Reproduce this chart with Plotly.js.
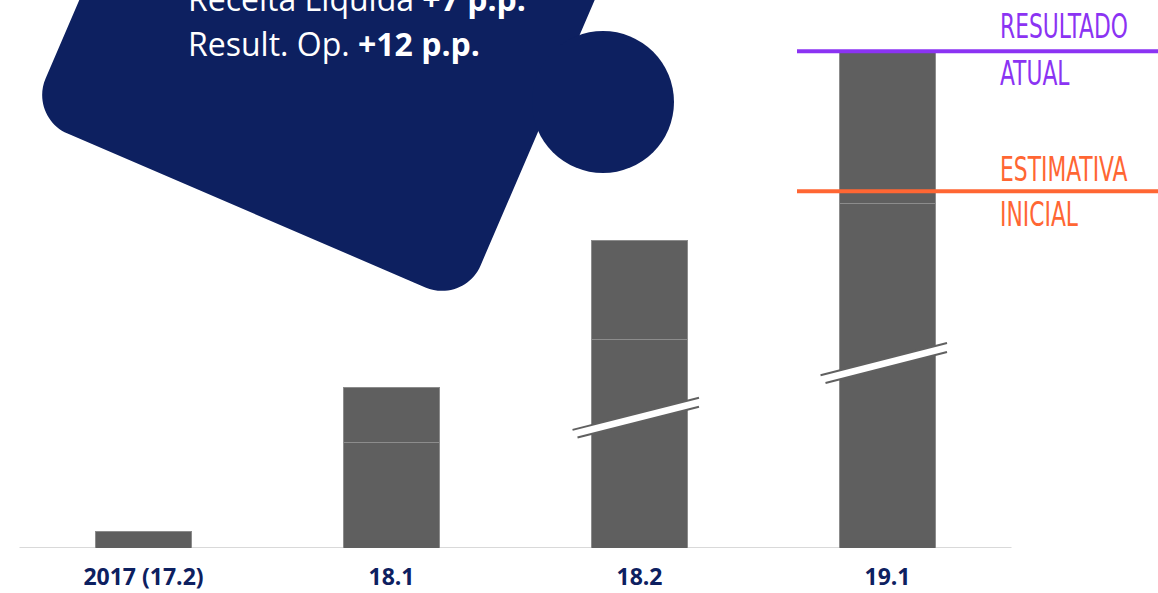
<!DOCTYPE html>
<html>
<head>
<meta charset="utf-8">
<script src="https://cdn.plot.ly/plotly-3.0.1.min.js"></script>
<style>
  html, body { margin: 0; padding: 0; background: #ffffff; }
  #chart { width: 1158px; height: 593px; }
</style>
</head>
<body>
<div id="chart"></div>
<script>
// Periods on the x axis
const periods = ['2017 (17.2)', '18.1', '18.2', '19.1'];
// Stacked bar segments (index, 19.1 = 100)
const baseValues = [3.4, 21.3, 41.9, 69.4];
const topValues = [null, 11.1, 19.9, 30.6];
// Axis-break marks drawn across the tall bars (value at the bar centre)
const breakAt = [null, null, 26.3, 37.3];
// Reference levels
const resultadoAtual = 100;
const estimativaInicial = 71.8;
// Callout text
const calloutLabels = ['Receita Líquida', 'Result. Op.'];
const calloutDeltas = ['+7 p.p.', '+12 p.p.'];

// ---- page geometry ----
const W = 1158, H = 593;
const plotBottom = 548;                 // pixel row of the baseline
const slot = 248;                        // pixels per category
const firstCentre = 143.5;               // pixel centre of the first category
const xRange = [(0 - firstCentre) / slot, (W - firstCentre) / slot];
const yMax = 110.3;

const navy = '#0d2060';
const barGrey = '#5f5f5f';
const purple = '#8b33f3';
const orange = '#ff6633';

// pixel -> paper helpers for the decorative callout
const px = x => x / W;
const py = y => (plotBottom - y) / plotBottom;

// Rounded, rotated callout body (only the two lower corners are on screen)
function calloutPath() {
  const BL = [29, 117], BR = [464, 304];
  const len = Math.hypot(BR[0] - BL[0], BR[1] - BL[1]);
  const u = [(BR[0] - BL[0]) / len, (BR[1] - BL[1]) / len]; // along bottom edge
  const up = [u[1], -u[0]];                                   // towards the top
  const Hh = 520;
  const TL = [BL[0] + up[0] * Hh, BL[1] + up[1] * Hh];
  const TR = [BR[0] + up[0] * Hh, BR[1] + up[1] * Hh];
  const d = 42, k = 0.5523;
  const p = (pt) => px(pt[0]).toFixed(5) + ',' + py(pt[1]).toFixed(5);
  const add = (a, v, s) => [a[0] + v[0] * s, a[1] + v[1] * s];
  const down = [-up[0], -up[1]];
  const bl1 = add(BL, up, d), bl2 = add(BL, u, d);
  const blc1 = add(bl1, down, k * d), blc2 = add(bl2, u, -k * d);
  const br1 = add(BR, u, -d), br2 = add(BR, up, d);
  const brc1 = add(br1, u, k * d), brc2 = add(br2, up, -k * d);
  return 'M ' + p(TL) + ' L ' + p(bl1) +
    ' C ' + p(blc1) + ' ' + p(blc2) + ' ' + p(bl2) +
    ' L ' + p(br1) +
    ' C ' + p(brc1) + ' ' + p(brc2) + ' ' + p(br2) +
    ' L ' + p(TR) + ' Z';
}

const xIdx = periods.map((_, i) => i);

const traces = [
  {
    type: 'bar', x: xIdx, y: baseValues, width: 0.39,
    marker: { color: barGrey, line: { color: '#8c8c8c', width: 1 } },
    hoverinfo: 'skip'
  },
  {
    type: 'bar', x: xIdx, y: topValues, width: 0.39,
    marker: { color: barGrey, line: { color: '#8c8c8c', width: 1 } },
    hoverinfo: 'skip'
  }
];

const shapes = [];
// baseline
shapes.push({ type: 'line', xref: 'x', yref: 'y', x0: -0.5, x1: 3.5, y0: 0, y1: 0,
  line: { color: '#d9d9d9', width: 2 }, layer: 'below' });

// axis-break marks
const slope = 12.7, half = 0.9, bl = -0.27, br = 0.24;
breakAt.forEach((b, i) => {
  if (b === null) return;
  const xl = i + bl, xr = i + br;
  const yl = b + slope * bl, yr = b + slope * br;
  shapes.push({ type: 'path', xref: 'x', yref: 'y',
    path: `M ${xl},${yl - half} L ${xr},${yr - half} L ${xr},${yr + half} L ${xl},${yl + half} Z`,
    fillcolor: '#ffffff', line: { width: 0 } });
  shapes.push({ type: 'line', xref: 'x', yref: 'y', x0: xl, x1: xr, y0: yl + half, y1: yr + half,
    line: { color: '#606060', width: 2 } });
  shapes.push({ type: 'line', xref: 'x', yref: 'y', x0: xl + 0.02, x1: xr, y0: yl - half + slope * 0.02, y1: yr - half,
    line: { color: '#606060', width: 2 } });
});

// reference levels
const refStart = 3 - (887.5 - 797) / slot;
shapes.push({ type: 'line', xref: 'x', yref: 'y', x0: refStart, x1: xRange[1], y0: resultadoAtual, y1: resultadoAtual,
  line: { color: purple, width: 4 } });
shapes.push({ type: 'line', xref: 'x', yref: 'y', x0: refStart, x1: xRange[1], y0: estimativaInicial, y1: estimativaInicial,
  line: { color: orange, width: 4 } });

// callout body
shapes.push({ type: 'path', xref: 'paper', yref: 'paper', path: calloutPath(),
  fillcolor: navy, line: { width: 0 } });
shapes.push({ type: 'circle', xref: 'paper', yref: 'paper',
  x0: px(532), x1: px(674), y0: py(173), y1: py(31),
  fillcolor: navy, line: { width: 0 } });

const labelX = 3 + (998 - 887.5) / slot;
const labelFont = c => ({ family: 'DejaVu Sans Condensed, DejaVu Sans, sans-serif', size: 34, color: c });

const annotations = [
  { x: labelX, y: resultadoAtual, xref: 'x', yref: 'y', xanchor: 'left', yanchor: 'bottom',
    yshift: 3, text: 'RESULTADO', showarrow: false, font: labelFont(purple) },
  { x: labelX, y: resultadoAtual, xref: 'x', yref: 'y', xanchor: 'left', yanchor: 'top',
    yshift: 0, text: 'ATUAL', showarrow: false, font: labelFont(purple) },
  { x: labelX, y: estimativaInicial, xref: 'x', yref: 'y', xanchor: 'left', yanchor: 'bottom',
    yshift: 0, text: 'ESTIMATIVA', showarrow: false, font: labelFont(orange) },
  { x: labelX, y: estimativaInicial, xref: 'x', yref: 'y', xanchor: 'left', yanchor: 'top',
    yshift: -1, text: 'INICIAL', showarrow: false, font: labelFont(orange) }
];

const calloutBaselines = [12, 57];
calloutLabels.forEach((lab, i) => {
  annotations.push({
    xref: 'paper', yref: 'paper', x: px(186), y: py(calloutBaselines[i] + 10),
    xanchor: 'left', yanchor: 'bottom', showarrow: false,
    text: lab + ' <b>' + calloutDeltas[i] + '</b>',
    font: { family: 'Open Sans, sans-serif', size: 32, color: '#ffffff' }
  });
});

const layout = {
  width: W, height: H,
  margin: { l: 0, r: 0, t: 0, b: H - plotBottom, pad: 0 },
  paper_bgcolor: '#ffffff', plot_bgcolor: '#ffffff',
  barmode: 'stack', showlegend: false,
  xaxis: {
    range: xRange, tickvals: xIdx, ticktext: periods,
    showgrid: false, zeroline: false, showline: false, ticks: '',
    tickfont: { family: 'Open Sans, sans-serif', size: 23, color: navy, weight: 700 },
    ticklabelstandoff: 13, fixedrange: true
  },
  yaxis: { range: [0, yMax], visible: false, fixedrange: true },
  shapes: shapes,
  annotations: annotations
};

Plotly.newPlot('chart', traces, layout, { staticPlot: true, displayModeBar: false }).then(gd => {
  // Condense the level labels horizontally so RESULTADO spans about 128px
  const texts = Array.from(gd.querySelectorAll('.annotation-text'))
    .filter(t => ['RESULTADO', 'ATUAL', 'ESTIMATIVA', 'INICIAL'].includes(t.textContent));
  const ref = texts.find(t => t.textContent === 'RESULTADO');
  if (!ref) return;
  const s = 128 / ref.getBBox().width;
  texts.forEach(t => {
    t.style.transformBox = 'fill-box';
    t.style.transformOrigin = 'left center';
    t.style.transform = 'scaleX(' + s.toFixed(3) + ')';
  });
});
</script>
</body>
</html>
